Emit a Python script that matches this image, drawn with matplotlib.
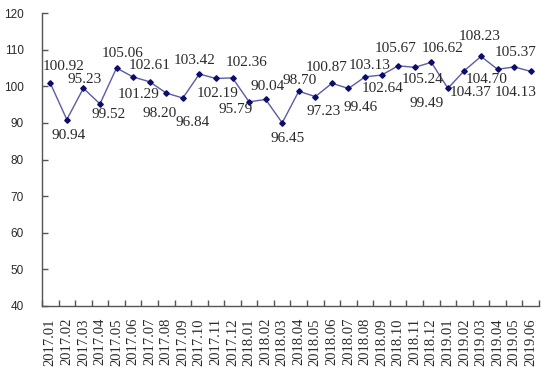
import matplotlib
matplotlib.use('Agg')
import matplotlib.pyplot as plt
import numpy as np

months = ['2017.01', '2017.02', '2017.03', '2017.04', '2017.05', '2017.06',
          '2017.07', '2017.08', '2017.09', '2017.10', '2017.11', '2017.12',
          '2018.01', '2018.02', '2018.03', '2018.04', '2018.05', '2018.06',
          '2018.07', '2018.08', '2018.09', '2018.10', '2018.11', '2018.12',
          '2019.01', '2019.02', '2019.03', '2019.04', '2019.05', '2019.06']
values = [100.92, 90.94, 99.52, 95.23, 105.06, 102.61,
          101.29, 98.20, 96.84, 103.42, 102.19, 102.36,
          95.79, 96.45, 90.04, 98.70, 97.23, 100.87,
          99.46, 102.64, 103.13, 105.67, 105.24, 106.62,
          99.49, 104.37, 108.23, 104.70, 105.37, 104.13]
y_ticks = [40, 50, 60, 70, 80, 90, 100, 110, 120]

# label offsets from each point, pixels (dx right, dy down as in the picture)
label_offsets = [(13, -17), (2, 16), (25, 26), (-15, -24), (6, -15), (17, -11),
                 (-11, 13), (-7, 20), (10, 24), (-5, -14), (2, 15), (14, -15),
                 (-13, 8), (22, 39), (-15, -36), (1, -11), (8, 15), (-5, -16),
                 (12, 19), (18, 12), (-12, -10), (-3, -17), (8, 12), (11, -14),
                 (-21, 15), (6, 22), (-1, -20), (-11, 10), (1, -14), (-15, 21)]

fig = plt.figure(figsize=(5.48, 3.74), dpi=100)
ax = fig.add_axes([0.0766, 0.183, 0.907, 0.781])

x = np.arange(len(months))
ax.plot(x, values, color='#5b5ba6', linewidth=1.0, marker='D', markersize=2.8,
        markerfacecolor='#0c0c6a', markeredgecolor='#0c0c6a', zorder=3)

for i, v in enumerate(values):
    dx, dy = label_offsets[i]
    ax.annotate(f'{v:.2f}', (i, v), xytext=(dx, -dy), textcoords='offset pixels',
                ha='center', va='center', fontsize=11, family='Liberation Serif',
                color='#2a2a2a')

ax.set_xlim(-0.5, len(months) - 0.5)
ax.set_ylim(40, 120)
ax.set_yticks(y_ticks)
ax.set_yticklabels([str(t) for t in y_ticks], family='Liberation Sans', fontsize=8.5,
                   color='#2a2a2a')
ax.tick_params(axis='y', direction='in', length=4, width=1, color='#555555', pad=13)

ax.set_xticks(x)
ax.set_xticklabels(months, rotation=90, family='Liberation Serif', fontsize=10.5,
                   color='#2a2a2a')
ax.tick_params(axis='x', which='major', length=0, pad=9)
ax.set_xticks(np.arange(len(months) + 1) - 0.5, minor=True)
ax.tick_params(axis='x', which='minor', direction='in', length=4, width=1, color='#555555')

for side in ['top', 'right']:
    ax.spines[side].set_visible(False)
for side in ['left', 'bottom']:
    ax.spines[side].set_color('#555555')
    ax.spines[side].set_linewidth(1.0)

fig.savefig('out.png', dpi=100)
